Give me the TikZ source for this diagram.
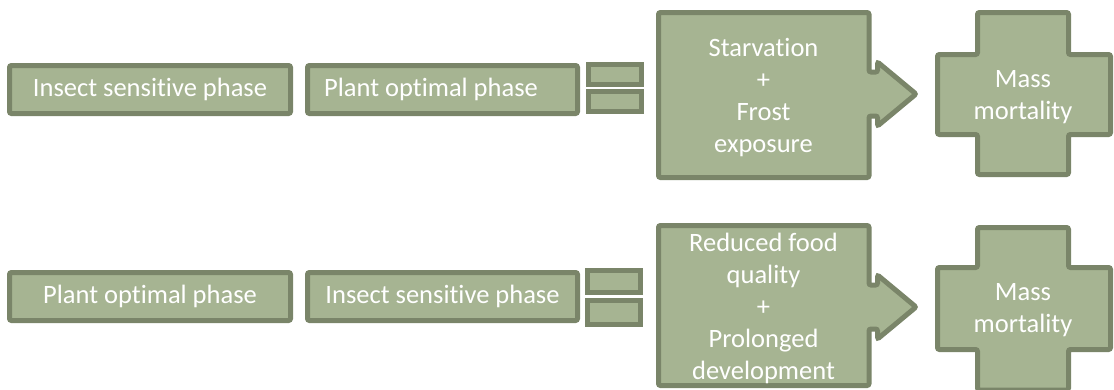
\documentclass[tikz,border=0pt]{standalone}
\usepackage{fontspec}
\setmainfont{Carlito}[Ligatures={NoCommon}]
\definecolor{boxfill}{RGB}{166,180,146}
\definecolor{boxline}{RGB}{122,133,105}
\tikzset{
  shapeline/.style={draw=boxline, fill=boxfill, line width=5pt, rounded corners=2pt},
  phase/.style={shapeline, minimum height=48pt, inner sep=0pt, text=white,
    font=\fontsize{26.5}{32}\selectfont},
  eqbar/.style={draw=boxline, fill=boxfill, line width=5pt, minimum width=53pt,
    inner sep=0pt},
  lbl/.style={text=white, font=\fontsize{26.5}{32}\selectfont, align=center, inner sep=0pt},
}
\begin{document}
\begin{tikzpicture}[x=1pt,y=-1pt]
\useasboundingbox (0,0) rectangle (1114,389);

% ---------- top row ----------
\node[phase, minimum width=281pt] (t1) at (150,89.5) {\raisebox{-1.5pt}{Insect sensitive phase}};
\node[phase, minimum width=270pt] (t2) at (442.5,89.5) {\raisebox{-1.5pt}{Plant optimal phase}\hspace*{23pt}};
\node[eqbar, minimum height=20pt] (te1) at (615,74.5) {};
\node[eqbar, minimum height=20pt] (te2) at (615,101.5) {};

\draw[shapeline] (658.5,12.5) -- (869,12.5) -- (869,72) -- (877.5,72) -- (877.5,62)
  -- (916,94) -- (877.5,126) -- (877.5,116) -- (869,116) -- (869,177.5)
  -- (658.5,177.5) -- cycle;
\node[lbl] (ta) at (763.5,98) {Starvation\\+\\Frost\\exposure};

\draw[shapeline] (977.5,12.5) -- (1068.5,12.5) -- (1068.5,54.5) -- (1110.5,54.5)
  -- (1110.5,134.5) -- (1068.5,134.5) -- (1068.5,174.5) -- (977.5,174.5)
  -- (977.5,134.5) -- (937.5,134.5) -- (937.5,54.5) -- (977.5,54.5) -- cycle;
\node[lbl] (tm) at (1023,97.5) {Mass\\mortality};

% ---------- bottom row ----------
\node[phase, minimum width=281pt] (b1) at (150,296.5) {\raisebox{-1.5pt}{Plant optimal phase}};
\node[phase, minimum width=270pt] (b2) at (442.5,296.5) {\raisebox{-1.5pt}{Insect sensitive phase}};
\node[eqbar, minimum height=22pt] (be1) at (614,281.5) {};
\node[eqbar, minimum height=24pt] (be2) at (614,312.5) {};

\draw[shapeline] (658.5,225.5) -- (869,225.5) -- (869,285) -- (877.5,285) -- (877.5,275)
  -- (916,307) -- (877.5,339) -- (877.5,329) -- (869,329) -- (869,385.5)
  -- (658.5,385.5) -- cycle;
\node[lbl] (ba) at (763.5,308.5) {Reduced food\\quality\\+\\Prolonged\\development};

\draw[shapeline] (977.5,227.5) -- (1068.5,227.5) -- (1068.5,267.5) -- (1110.5,267.5)
  -- (1110.5,349.5) -- (1068.5,349.5) -- (1068.5,390) -- (977.5,390)
  -- (977.5,349.5) -- (937.5,349.5) -- (937.5,267.5) -- (977.5,267.5) -- cycle;
\node[lbl] (bm) at (1023,310) {Mass\\mortality};
\end{tikzpicture}
\end{document}
